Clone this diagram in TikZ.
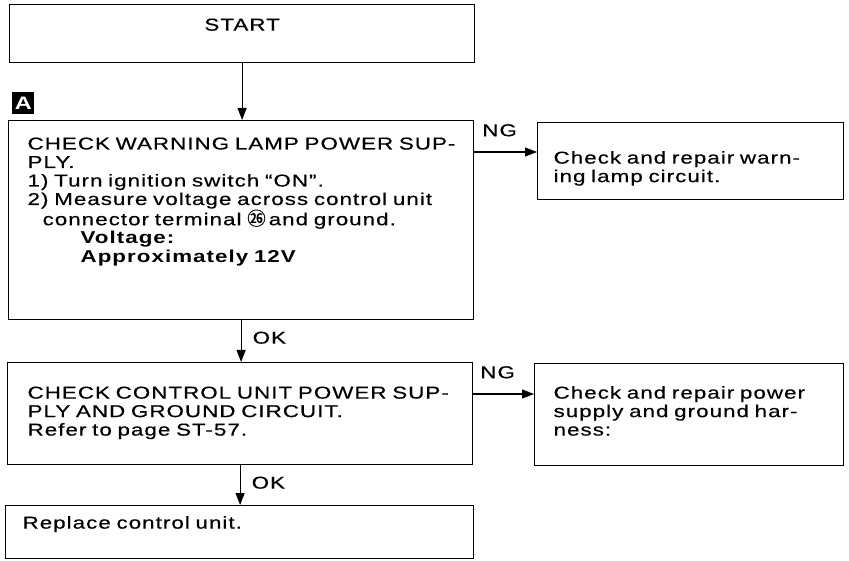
\documentclass[tikz,border=0pt]{standalone}
\usepackage{fontspec}
\setmainfont{Liberation Sans}[FakeStretch=1.3, LetterSpace=6, UprightFeatures={FakeBold=0.4}]
\newfontfamily\cjk{Noto Sans CJK SC}[FakeBold=0.6]
\usetikzlibrary{arrows.meta,positioning}

\tikzset{
  frame/.style={draw, line width=1.2pt, anchor=north west, inner sep=0pt},
  stepbox/.style={frame, align=left, execute at begin node={\leftskip=#1}},
  stepbox/.default=19pt,
  flow/.style={-{Triangle[length=12pt,width=9pt]}, line width=1.2pt},
  tag/.style={inner sep=0pt},
}

\begin{document}
\begin{tikzpicture}[x=1pt, y=-1pt, font=\fontsize{17.2}{18.5}\selectfont]
                \useasboundingbox (0,0) rectangle (849,561);
                \node[frame, align=center, text width=465pt, text height=26pt, text depth=32pt] (start) at (9,4) {START};
                \node[fill=black, text=white, minimum width=22pt, minimum height=22pt, inner sep=0pt, anchor=north west, font=\fontsize{18}{18}\selectfont\bfseries] (markA) at (12,92) {A};
                \node[stepbox=19pt, text width=465pt, text height=28.9pt, text depth=170.1pt] (lampcheck) at (8,120) {CHECK WARNING LAMP POWER SUP-\\PLY.\\1) Turn ignition switch ``ON''.\\2) Measure voltage across control unit\\\hspace*{15pt}connector terminal {\cjk\fontsize{18.5}{18.5}\selectfont ㉖}\hspace{3pt}and ground.\\\hspace*{53pt}\textbf{Voltage:}\\\hspace*{53pt}\textbf{Approximately 12V}};
                \node[stepbox=16pt, text width=306pt, text height=41pt, text depth=36pt] (lamprepair) at (537,122) {Check and repair warn-\\ing lamp circuit.};
                \node[stepbox=20pt, text width=465pt, text height=36pt, text depth=66pt] (unitcheck) at (7,362) {CHECK CONTROL UNIT POWER SUP-\\PLY AND GROUND CIRCUIT.\\Refer to page ST-57.};
                \node[stepbox=19pt, text width=309pt, text height=35pt, text depth=67pt] (harness) at (534,363) {Check and repair power\\supply and ground har-\\ness:};
                \node[stepbox=17pt, text width=468pt, text height=23pt, text depth=30pt] (replace) at (5,505) {Replace control unit.};

                \draw[flow] (start.south) -- (start.south |- lampcheck.north);
                \draw[flow] ([yshift=-32pt]lampcheck.north east) -- ([yshift=-32pt]lampcheck.north east -| lamprepair.west) node[midway, above=15pt, xshift=-6pt, tag] {NG};
                \draw[flow] (lampcheck.south) -- (lampcheck.south |- unitcheck.north) node[pos=0.42, right=11pt, tag] {OK};
                \draw[flow] ([yshift=-32pt]unitcheck.north east) -- ([yshift=-32pt]unitcheck.north east -| harness.west) node[midway, above=15pt, xshift=-6pt, tag] {NG};
                \draw[flow] (unitcheck.south) -- (unitcheck.south |- replace.north) node[pos=0.44, right=11pt, tag] {OK};
\end{tikzpicture}
\end{document}
